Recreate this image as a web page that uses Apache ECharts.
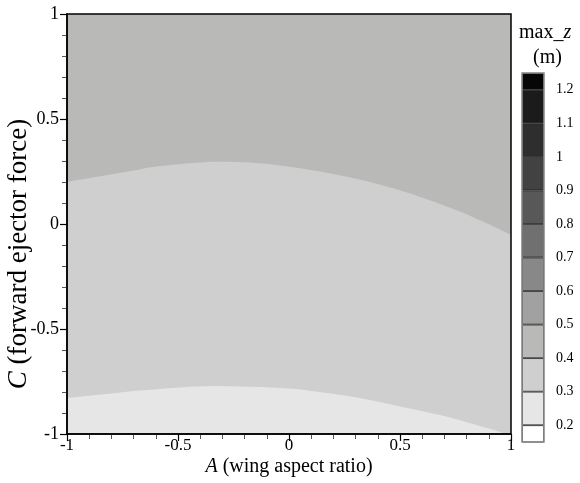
<!DOCTYPE html>
<html>
<head>
<meta charset="utf-8">
<script src="https://cdn.jsdelivr.net/npm/echarts@6/dist/echarts.min.js"></script>
<style>html,body{margin:0;padding:0;background:#fff;}#c{width:580px;height:483px;}</style>
</head>
<body>
<div id="c"></div>
<script>
// Contour boundary between 0.3–0.4 and 0.4–0.5 regions (max_z = 0.4)
const upperA = [-1, -0.73, -0.58, -0.32, -0.13, 0.17, 0.47, 0.77, 1];
const upperC = [0.201, 0.249, 0.276, 0.297, 0.289, 0.244, 0.17, 0.059, -0.052];
// Contour boundary between 0.2–0.3 and 0.3–0.4 regions (max_z = 0.3)
const lowerA = [-1, -0.78, -0.66, -0.35, 0, 0.17, 0.32, 0.5, 0.68, 0.8, 0.92, 0.975, 1];
const lowerC = [-0.829, -0.805, -0.792, -0.771, -0.783, -0.805, -0.829, -0.869, -0.91, -0.944, -0.98, -1.0, -1.012];
// Top region (fills whole domain, level 0.4–0.5)
const topA = [-1, 1];
const topC = [1, 1];
// Colour bar levels (from bottom)
const levelTicks = [0.2, 0.3, 0.4, 0.5, 0.6, 0.7, 0.8, 0.9, 1.0, 1.1, 1.2];
const levelSteps = [0.2, 0.1, 0.1, 0.1, 0.1, 0.1, 0.1, 0.1, 0.1, 0.1, 0.1, 0.05];
const levelColors = ['#ffffff', '#e6e6e6', '#cfcfcf', '#b9b9b8', '#a1a1a1', '#888888', '#707070', '#585858', '#424242', '#2e2e2e', '#1b1b1b', '#060606'];
const axisTicks = [-1, -0.5, 0, 0.5, 1];

const FONT = "'Liberation Serif','Times New Roman',serif";
const pairs = (a, c) => a.map((v, i) => [v, c[i]]);

const chart = echarts.init(document.getElementById('c'), null, {renderer: 'canvas'});

function fillSeries(a, c, color, z) {
  return {
    type: 'line', xAxisIndex: 0, yAxisIndex: 0,
    data: pairs(a, c), smooth: 0.3, showSymbol: false, symbol: 'none',
    lineStyle: {width: 0, color: color},
    areaStyle: {color: color, opacity: 1, origin: 'start'},
    itemStyle: {color: color}, z: z, silent: true, animation: false, clip: true
  };
}

const barSeries = levelSteps.map((v, i) => ({
  type: 'bar', xAxisIndex: 1, yAxisIndex: 1, stack: 'cb',
  data: [v], barWidth: '100%', barCategoryGap: 0,
  itemStyle: {color: levelColors[i], borderColor: '#222', borderWidth: 0.8},
  silent: true, animation: false, clip: true
}));

const option = {
  animation: false,
  backgroundColor: '#fff',
  textStyle: {fontFamily: FONT},
  grid: [
    {left: 67, top: 14, width: 444, height: 420, show: true, borderColor: '#000', borderWidth: 1.5, z: 10,
      backgroundColor: 'transparent', outerBoundsMode: 'none', containLabel: false},
    {left: 522, top: 73, width: 22, height: 369, show: true, borderColor: '#888', borderWidth: 1.5, z: 10,
      backgroundColor: 'transparent', outerBoundsMode: 'none', containLabel: false}
  ],
  xAxis: [
    {
      gridIndex: 0, type: 'value', min: -1, max: 1, interval: 0.5,
      axisLine: {show: true, onZero: false, lineStyle: {color: '#000', width: 1.5}},
      axisTick: {show: true, length: 7, lineStyle: {color: '#000', width: 1.2}},
      minorTick: {show: true, splitNumber: 5, length: 5, lineStyle: {color: '#555'}},
      splitLine: {show: false},
      axisLabel: {color: '#000', fontSize: 17, fontFamily: FONT, margin: 3,
        customValues: axisTicks, formatter: v => String(+(+v).toFixed(2))},
      name: '{i|A} (wing aspect ratio)', nameLocation: 'middle', nameGap: 23, nameMoveOverlap: false,
      nameTextStyle: {color: '#000', fontSize: 20, fontFamily: FONT,
        rich: {i: {fontStyle: 'italic', fontSize: 20, fontFamily: FONT, color: '#000'}}},
      z: 5
    },
    {
      gridIndex: 1, type: 'category', data: [''],
      axisLine: {show: false}, axisTick: {show: false}, axisLabel: {show: false}, splitLine: {show: false}
    }
  ],
  yAxis: [
    {
      gridIndex: 0, type: 'value', min: -1, max: 1, interval: 0.5,
      axisLine: {show: true, onZero: false, lineStyle: {color: '#000', width: 1.5}},
      axisTick: {show: true, length: 7, lineStyle: {color: '#000', width: 1.2}},
      minorTick: {show: true, splitNumber: 5, length: 5, lineStyle: {color: '#555'}},
      splitLine: {show: false},
      axisLabel: {color: '#000', fontSize: 18, fontFamily: FONT, margin: 8,
        customValues: axisTicks, formatter: v => String(+(+v).toFixed(2))},
      name: '{i|C} (forward ejector force)', nameLocation: 'middle', nameGap: 35, nameMoveOverlap: false,
      nameTextStyle: {color: '#000', fontSize: 27, fontFamily: FONT, padding: [0, 60, 0, 0],
        rich: {i: {fontStyle: 'italic', fontSize: 27, fontFamily: FONT, color: '#000'}}},
      z: 5
    },
    {
      gridIndex: 1, type: 'value', position: 'right', min: 0.15, max: 1.25,
      axisLine: {show: false}, splitLine: {show: false},
      axisTick: {show: false, customValues: levelTicks},
      axisLabel: {color: '#000', fontSize: 14, fontFamily: FONT, margin: 12,
        customValues: levelTicks, formatter: v => String(+(+v).toFixed(1))}
    }
  ],
  graphic: [
    {type: 'text', left: 519, top: 23, style: {text: '{n|max_}{i|z}', fontFamily: FONT, fontSize: 20, fill: '#000',
      rich: {n: {fontSize: 20, fontFamily: FONT, fill: '#000'}, i: {fontSize: 20, fontStyle: 'italic', fontFamily: FONT, fill: '#000'}}}},
    {type: 'text', left: 533, top: 48, style: {text: '(m)', fontFamily: FONT, fontSize: 20, fill: '#000'}}
  ],
  series: [
    fillSeries(topA, topC, levelColors[3], 1),
    fillSeries(upperA, upperC, levelColors[2], 2),
    fillSeries(lowerA, lowerC, levelColors[1], 3)
  ].concat(barSeries)
};
chart.setOption(option);
</script>
</body>
</html>
